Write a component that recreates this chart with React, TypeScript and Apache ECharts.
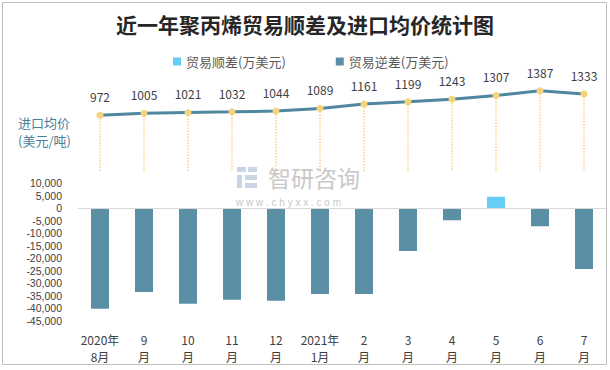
import React, { useEffect, useRef } from "react";
import * as echarts from "echarts";

const months = ["2020年\n8月", "9\n月", "10\n月", "11\n月", "12\n月", "2021年\n1月", "2\n月", "3\n月", "4\n月", "5\n月", "6\n月", "7\n月"];
const importPrice = [972, 1005, 1021, 1032, 1044, 1089, 1161, 1199, 1243, 1307, 1387, 1333];
const surplus: (number | string)[] = ["-", "-", "-", "-", "-", "-", "-", "-", "-", 4600, "-", "-"];
const deficit: (number | string)[] = [-40200, -33500, -38200, -36600, -37000, -34300, -34300, -17100, -4800, "-", -7200, -24300];

export default function App() {
  const ref = useRef<HTMLDivElement>(null);
  useEffect(() => {
    if (!ref.current) return;
    const chart = echarts.init(ref.current, null, { renderer: "svg" });
    const font = "'Microsoft YaHei', 'Noto Sans CJK SC', sans-serif";
    chart.setOption({
      animation: false,
      backgroundColor: "#ffffff",
      textStyle: { fontFamily: font },
      title: {
        text: "近一年聚丙烯贸易顺差及进口均价统计图",
        left: "center",
        top: 8,
        textStyle: { fontSize: 21, fontWeight: "bold", color: "#262626", fontFamily: "'Noto Sans CJK SC', sans-serif" },
      },
      legend: {
        top: 50,
        left: 168,
        itemWidth: 8,
        itemHeight: 8,
        itemGap: 50,
        icon: "rect",
        textStyle: { fontSize: 13, color: "#595959" },
        data: ["贸易顺差(万美元)", "贸易逆差(万美元)"],
      },
      graphic: [
        { type: "rect", shape: { x: 2.5, y: 2.5, width: 604, height: 362 }, style: { fill: "none", stroke: "#bfbfbf", lineWidth: 1 }, silent: true },
        { type: "text", left: 18, top: 113, style: { text: "进口均价\n(美元/吨)", fill: "#4a7f9a", fontSize: 13, lineHeight: 18, fontFamily: font } },
        { type: "rect", shape: { x: 237, y: 167, width: 9, height: 5 }, style: { fill: "#c9d4e4" }, silent: true, z: 0 },
        { type: "rect", shape: { x: 248, y: 167, width: 9, height: 5 }, style: { fill: "#c9d4e4" }, silent: true, z: 0 },
        { type: "rect", shape: { x: 237, y: 175, width: 5, height: 13 }, style: { fill: "#c9d4e4" }, silent: true, z: 0 },
        { type: "rect", shape: { x: 245, y: 175, width: 12, height: 5 }, style: { fill: "#c9d4e4" }, silent: true, z: 0 },
        { type: "rect", shape: { x: 245, y: 183, width: 12, height: 5 }, style: { fill: "#c9d4e4" }, silent: true, z: 0 },
        { type: "text", left: 268, top: 165, style: { text: "智研咨询", fill: "#c8c8c8", fontSize: 23, lineHeight: 24, fontFamily: font }, silent: true, z: 0 },
        { type: "text", left: 236, top: 197, style: { text: "w w w . c h y x x . c o m", fill: "#c8c8c8", fontSize: 10, lineHeight: 10, fontFamily: "'Liberation Sans', Arial, sans-serif" }, silent: true, z: 0 },
      ],
      grid: [
        { left: 78, right: 4, top: 84, height: 89 },
        { left: 78, right: 4, top: 183.3, height: 137.4 },
      ],
      xAxis: [
        { type: "category", gridIndex: 0, data: months, show: false, boundaryGap: true },
        {
          type: "category",
          gridIndex: 1,
          data: months,
          position: "bottom",
          axisLine: { show: false, onZero: false },
          axisTick: { show: false },
          axisLabel: { color: "#404040", fontSize: 12, lineHeight: 17, margin: 10, interval: 0 },
        },
      ],
      yAxis: [
        { type: "value", gridIndex: 0, min: 0, max: 1500, show: false },
        {
          type: "value",
          gridIndex: 1,
          min: -45000,
          max: 10000,
          interval: 5000,
          axisLine: { show: false },
          axisTick: { show: false },
          splitLine: { show: false },
          axisLabel: {
            color: "#404040",
            fontSize: 10.5,
            lineHeight: 11,
            margin: 16,
            fontFamily: "'Liberation Sans', Arial, sans-serif",
            formatter: (v: number) => v.toLocaleString("en-US"),
          },
        },
      ],
      series: [
        {
          name: "进口均价",
          type: "line",
          xAxisIndex: 0,
          yAxisIndex: 0,
          data: importPrice,
          symbol: "circle",
          symbolSize: 7,
          itemStyle: { color: "#f7d37c" },
          lineStyle: { color: "#4f87a0", width: 3 },
          label: { show: true, position: "top", distance: 9, color: "#404040", fontSize: 12 },
          markLine: {
            silent: true,
            symbol: "none",
            label: { show: false },
            lineStyle: { color: "#f7d37c", type: "dotted", width: 1.5 },
            data: importPrice.map((v, i) => [
              { xAxis: i, yAxis: v },
              { xAxis: i, yAxis: 25 },
            ]),
          },
          z: 3,
        },
        {
          name: "贸易顺差(万美元)",
          type: "bar",
          xAxisIndex: 1,
          yAxisIndex: 1,
          stack: "trade",
          barWidth: 18,
          data: surplus,
          itemStyle: { color: "#66cdf5" },
        },
        {
          name: "贸易逆差(万美元)",
          type: "bar",
          xAxisIndex: 1,
          yAxisIndex: 1,
          stack: "trade",
          barWidth: 18,
          data: deficit,
          itemStyle: { color: "#5b8fa6" },
          markLine: {
            silent: true,
            symbol: "none",
            label: { show: false },
            lineStyle: { color: "#d9d9d9", type: "solid", width: 1 },
            data: [{ yAxis: 0 }],
          },
        },
      ],
    });
    return () => chart.dispose();
  }, []);
  return <div ref={ref} style={{ position: "absolute", left: 0, top: 0, width: 610, height: 370 }} />;
}
